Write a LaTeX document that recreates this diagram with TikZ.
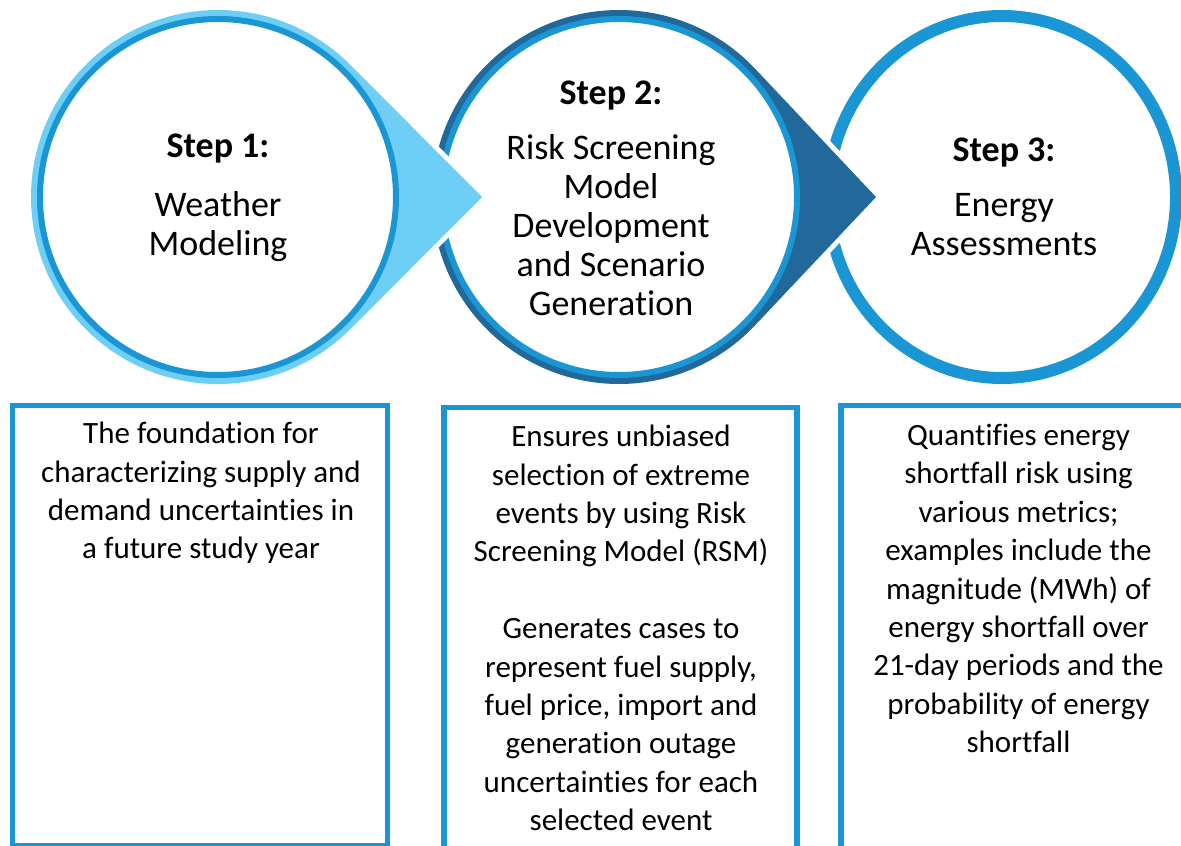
\documentclass[tikz,border=0pt]{standalone}
\usepackage{fontspec}
\setmainfont{Carlito}[RawFeature={-liga;-clig;-calt;-dlig;-rlig}]
\usetikzlibrary{calc}
\definecolor{stepsky}{HTML}{6DCFF6}
\definecolor{stepblue}{HTML}{1B96D4}
\definecolor{stepnavy}{HTML}{20699A}

\begin{document}
\begin{tikzpicture}[x=0.5pt, y=0.5pt,
    circtext/.style={font=\fontsize{18}{19.5}\selectfont, align=center, inner sep=0pt},
    desctext/.style={font=\fontsize{15.5}{19.2}\selectfont, align=center, inner sep=0pt},
    descbox/.style={draw=stepblue, line width=2.8pt},
    drop/.style={preaction={draw=white, line width=5pt}}]
  \useasboundingbox (0,0) rectangle (1181,-845);
  \clip (0,0) rectangle (1181,-845);

  \coordinate (c1) at (218,-197);
  \coordinate (c2) at (619,-197);
  \coordinate (c3) at (1002,-197);
  \coordinate (tip1) at (482,-197);
  \coordinate (tip2) at (876,-197);

  % last step: plain ring
  \draw[stepblue, line width=6pt, fill=white] (c3) ellipse [x radius=174, y radius=181];

  % middle step: navy drop pointing right
  \fill[stepnavy, drop] (tip2) -- ($(c2)+(43.3:187)$)
    arc[start angle=43.3, end angle=316.7, radius=187] -- cycle;
  \draw[stepblue, line width=3pt, fill=white] (c2) circle[radius=178];

  % first step: sky drop on top
  \fill[stepsky, drop] (tip1) -- ($(c1)+(44.9:187)$)
    arc[start angle=44.9, end angle=315.1, radius=187] -- cycle;
  \draw[stepblue, line width=3pt, fill=white] (c1) circle[radius=178];

  \node[circtext] (step1) at (218,-198) {\textbf{Step 1:}\\[10pt]Weather\\Modeling};
  \node[circtext] (step2) at (611,-198) {\textbf{Step 2:}\\[8pt]Risk Screening\\Model\\Development\\and Scenario\\Generation};
  \node[circtext] (step3) at (1004,-197) {\textbf{Step 3:}\\[8pt]Energy\\Assessments};

  % description boxes, open at the bottom edge
  \draw[descbox] (12.5,-405.5) rectangle (387.5,-846);
  \draw[descbox] (444,-407.5) rectangle (797,-870);
  \draw[descbox] (841,-405.5) rectangle (1196,-870);

  \node[desctext] (desc1) at (201,-493) {The foundation for\\characterizing supply and\\demand uncertainties in\\a future study year};
  \node[desctext] (desc2) at (621,-628) {Ensures unbiased\\selection of extreme\\events by using Risk\\Screening Model (RSM)\\[19.2pt]Generates cases to\\represent fuel supply,\\fuel price, import and\\generation outage\\uncertainties for each\\selected event};
  \node[desctext] (desc3) at (1018.5,-588.5) {Quantifies energy\\shortfall risk using\\various metrics;\\examples include the\\magnitude (MWh) of\\energy shortfall over\\21-day periods and the\\probability of energy\\shortfall};
\end{tikzpicture}
\end{document}
